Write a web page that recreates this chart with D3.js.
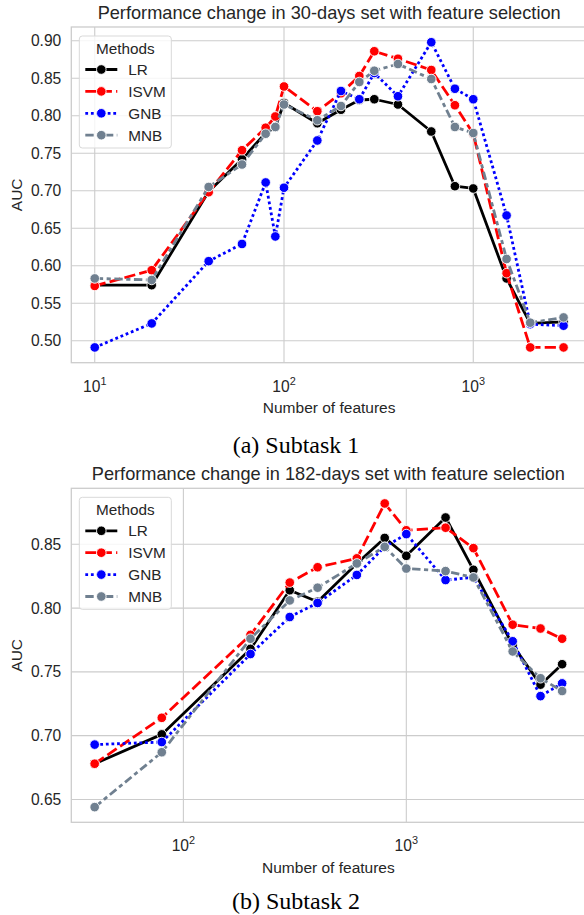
<!DOCTYPE html>
<html>
<head>
<meta charset="utf-8">
<script src="https://cdn.jsdelivr.net/npm/d3@7"></script>
<style>
  html, body { margin: 0; padding: 0; background: #ffffff; }
  svg { display: block; font-family: "Liberation Sans", Arial, sans-serif; }
</style>
</head>
<body>
<svg id="fig" width="584" height="915"></svg>
<script>
// Feature counts and AUC per method, 30-days set
const features30 = [10, 20, 40, 60, 80, 90, 100, 150, 200, 250, 300, 400, 600, 800, 1000, 1500, 2000, 3000];
const lr30   = [0.574, 0.574, 0.699, 0.742, 0.777, 0.785, 0.817, 0.790, 0.808, 0.821, 0.822, 0.815, 0.779, 0.706, 0.703, 0.583, 0.523, 0.525];
const isvm30 = [0.573, 0.594, 0.698, 0.754, 0.784, 0.799, 0.839, 0.806, 0.830, 0.853, 0.886, 0.876, 0.861, 0.814, 0.776, 0.590, 0.491, 0.491];
const gnb30  = [0.491, 0.523, 0.606, 0.629, 0.711, 0.639, 0.704, 0.767, 0.833, 0.822, 0.857, 0.826, 0.898, 0.836, 0.822, 0.667, 0.522, 0.520];
const mnb30  = [0.583, 0.581, 0.705, 0.735, 0.776, 0.785, 0.815, 0.794, 0.813, 0.845, 0.860, 0.869, 0.849, 0.785, 0.777, 0.609, 0.524, 0.531];

// Feature counts and AUC per method, 182-days set
const features182 = [40, 80, 200, 300, 400, 600, 800, 1000, 1500, 2000, 3000, 4000, 5000];
const lr182   = [0.678, 0.701, 0.768, 0.814, 0.805, 0.835, 0.855, 0.841, 0.871, 0.830, 0.771, 0.740, 0.756];
const isvm182 = [0.678, 0.714, 0.779, 0.820, 0.832, 0.839, 0.882, 0.861, 0.863, 0.847, 0.787, 0.784, 0.776];
const gnb182  = [0.693, 0.695, 0.764, 0.793, 0.804, 0.826, 0.848, 0.858, 0.822, 0.824, 0.774, 0.731, 0.741];
const mnb182  = [0.644, 0.687, 0.776, 0.806, 0.816, 0.835, 0.848, 0.831, 0.829, 0.824, 0.766, 0.745, 0.735];

const methods = ["LR", "ISVM", "GNB", "MNB"];
const yTicks30 = [0.50, 0.55, 0.60, 0.65, 0.70, 0.75, 0.80, 0.85, 0.90];
const yTicks182 = [0.65, 0.70, 0.75, 0.80, 0.85];
const xTickExps30 = [1, 2, 3];
const xTickExps182 = [2, 3];

const titles = ["Performance change in 30-days set with feature selection",
                "Performance change in 182-days set with feature selection"];
const captions = ["(a) Subtask 1", "(b) Subtask 2"];

const LW = 2.8;
const styles = {
  LR:   { color: "#000000", dash: null },
  ISVM: { color: "#ff0000", dash: [4 * LW, 1.5 * LW] },
  GNB:  { color: "#0000ff", dash: [1 * LW, 1 * LW] },
  MNB:  { color: "#708090", dash: [3 * LW, 1.25 * LW, 1.5 * LW, 1.25 * LW] }
};
const TEXT = "#262626";
const GRID = "#cccccc";

const svg = d3.select("#fig");

function panel(cfg) {
  const { top, bottom, left, right, xs, series, yTicks, xExps, title, caption } = cfg;
  const g = svg.append("g");

  // seaborn-style 5% margins around the data
  const lx = d3.extent(xs).map(Math.log10);
  const dx = (lx[1] - lx[0]) * 0.05;
  const allY = series.flatMap(s => s.values);
  const ey = d3.extent(allY);
  const dy = (ey[1] - ey[0]) * 0.05;

  const x = d3.scaleLog().domain([Math.pow(10, lx[0] - dx), Math.pow(10, lx[1] + dx)]).range([left, right]);
  const y = d3.scaleLinear().domain([ey[0] - dy, ey[1] + dy]).range([bottom, top]);

  // grid
  g.append("g").selectAll("line.h").data(yTicks).join("line")
    .attr("x1", left).attr("x2", right)
    .attr("y1", d => y(d)).attr("y2", d => y(d))
    .attr("stroke", GRID).attr("stroke-width", 1.1);
  g.append("g").selectAll("line.v").data(xExps).join("line")
    .attr("x1", d => x(Math.pow(10, d))).attr("x2", d => x(Math.pow(10, d)))
    .attr("y1", top).attr("y2", bottom)
    .attr("stroke", GRID).attr("stroke-width", 1.1);

  // frame
  g.append("rect").attr("x", left).attr("y", top)
    .attr("width", right - left).attr("height", bottom - top)
    .attr("fill", "none").attr("stroke", GRID).attr("stroke-width", 1.3);

  // y tick labels
  g.append("g").selectAll("text").data(yTicks).join("text")
    .attr("x", left - 10).attr("y", d => y(d))
    .attr("text-anchor", "end").attr("dominant-baseline", "central")
    .attr("font-size", 15.6).attr("fill", TEXT)
    .text(d => d.toFixed(2));

  // x tick labels as powers of ten
  const xt = g.append("g").selectAll("text").data(xExps).join("text")
    .attr("x", d => x(Math.pow(10, d))).attr("y", bottom + 29)
    .attr("text-anchor", "middle")
    .attr("font-size", 15.6).attr("fill", TEXT);
  xt.append("tspan").text("10");
  xt.append("tspan").attr("dy", -7).attr("font-size", 10.9).text(d => d);

  // axis labels and title
  g.append("text").attr("x", (left + right) / 2).attr("y", bottom + 45)
    .attr("text-anchor", "middle").attr("dominant-baseline", "central")
    .attr("font-size", 15.5).attr("fill", TEXT).text("Number of features");
  g.append("text")
    .attr("transform", `translate(16,${(top + bottom) / 2}) rotate(-90)`)
    .attr("text-anchor", "middle").attr("dominant-baseline", "central")
    .attr("font-size", 15.5).attr("fill", TEXT).text("AUC");
  g.append("text").attr("x", (left + right) / 2).attr("y", top - 14)
    .attr("text-anchor", "middle").attr("dominant-baseline", "central")
    .attr("font-size", 18.2).attr("fill", TEXT).text(title);

  // lines and markers
  const line = d3.line().x(d => x(d[0])).y(d => y(d[1]));
  series.forEach(s => {
    const st = styles[s.name];
    const pts = xs.map((v, i) => [v, s.values[i]]);
    const sg = g.append("g");
    sg.append("path").datum(pts).attr("d", line)
      .attr("fill", "none").attr("stroke", st.color).attr("stroke-width", LW)
      .attr("stroke-linejoin", "round").attr("stroke-linecap", st.dash ? "butt" : "round")
      .attr("stroke-dasharray", st.dash ? st.dash.join(",") : null);
    sg.selectAll("circle").data(pts).join("circle")
      .attr("cx", d => x(d[0])).attr("cy", d => y(d[1])).attr("r", 4.8)
      .attr("fill", st.color).attr("stroke", "#ffffff").attr("stroke-width", 0.9);
  });

  // legend
  const lg = g.append("g").attr("transform", `translate(${left + 8},${top + 9})`);
  lg.append("rect").attr("x", 0).attr("y", 0).attr("width", 92).attr("height", 112)
    .attr("rx", 3).attr("fill", "#ffffff").attr("fill-opacity", 0.8)
    .attr("stroke", "#d9d9d9").attr("stroke-width", 1);
  lg.append("text").attr("x", 46).attr("y", 12.5)
    .attr("text-anchor", "middle").attr("dominant-baseline", "central")
    .attr("font-size", 15.3).attr("fill", TEXT).text("Methods");
  methods.forEach((m, i) => {
    const st = styles[m];
    const yy = 33.5 + i * 21.9;
    lg.append("line").attr("x1", 6).attr("x2", 38).attr("y1", yy).attr("y2", yy)
      .attr("stroke", st.color).attr("stroke-width", LW)
      .attr("stroke-dasharray", st.dash ? st.dash.join(",") : null);
    lg.append("circle").attr("cx", 22).attr("cy", yy).attr("r", 4.8)
      .attr("fill", st.color).attr("stroke", "#ffffff").attr("stroke-width", 0.9);
    lg.append("text").attr("x", 49).attr("y", yy)
      .attr("dominant-baseline", "central")
      .attr("font-size", 15.3).attr("fill", TEXT).text(m);
  });

  // caption
  svg.append("text").attr("x", 296).attr("y", cfg.captionY)
    .attr("text-anchor", "middle").attr("dominant-baseline", "central")
    .attr("font-family", "'Liberation Serif', 'Times New Roman', serif")
    .attr("font-size", 24).attr("fill", "#000000").text(caption);
}

panel({
  top: 27, bottom: 362.7, left: 71.3, right: 587,
  xs: features30,
  series: [
    { name: "LR", values: lr30 }, { name: "ISVM", values: isvm30 },
    { name: "GNB", values: gnb30 }, { name: "MNB", values: mnb30 }
  ],
  yTicks: yTicks30, xExps: xTickExps30,
  title: titles[0], caption: captions[0], captionY: 445
});

panel({
  top: 488.3, bottom: 822.3, left: 71.3, right: 585.5,
  xs: features182,
  series: [
    { name: "LR", values: lr182 }, { name: "ISVM", values: isvm182 },
    { name: "GNB", values: gnb182 }, { name: "MNB", values: mnb182 }
  ],
  yTicks: yTicks182, xExps: xTickExps182,
  title: titles[1], caption: captions[1], captionY: 901
});
</script>
</body>
</html>
